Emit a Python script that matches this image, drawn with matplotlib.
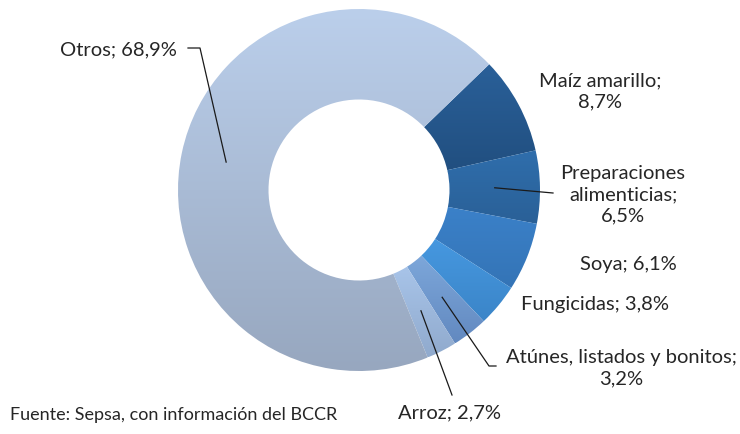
import numpy as np
import matplotlib
matplotlib.use('Agg')
import matplotlib.pyplot as plt
from matplotlib.colors import to_rgb

# data
categories = ['Maíz amarillo', 'Preparaciones alimenticias', 'Soya', 'Fungicidas',
              'Atúnes, listados y bonitos', 'Arroz', 'Otros']
shares = [8.7, 6.5, 6.1, 3.8, 3.2, 2.7, 68.9]
label_texts = ['Maíz amarillo;\n8,7%', 'Preparaciones\nalimenticias;\n6,5%', 'Soya; 6,1%',
               'Fungicidas; 3,8%', 'Atúnes, listados y bonitos;\n3,2%', 'Arroz; 2,7%',
               'Otros; 68,9%']
top_colors = ['#2A6099', '#2F6EAC', '#3B81C9', '#4698E0', '#7DA7DA', '#A8C4E9', '#BBCFEB']
bottom_colors = ['#214F80', '#2A6097', '#3474B6', '#3B85C8', '#6289C0', '#90AACD', '#97A7BF']
source = 'Fuente: Sepsa, con información del BCCR'

# layout in pixels (figure 740x435)
W, H = 740, 435
CX, CY, R = 359, 191, 181
START = 44  # degrees, counter-clockwise from x axis

def px(x, y):
    return ((x - CX) / R, (CY - y) / R)

# label centre and leader line bend points (pixels)
label_pos = [(600, 91), (623, 195), (628, 265), (595, 305), (621, 368), (450, 413), (118, 50)]
elbow_pts = [None, (553, 194), None, None, (489, 367), (452, 396), (200, 49)]
elbow_tails = [None, None, None, None, (496, 367), None, (188, 49)]

plt.rcParams['font.family'] = ['Lato', 'DejaVu Sans']
fig = plt.figure(figsize=(W / 100, H / 100), dpi=100)
ax = fig.add_axes([0, 0, 1, 1])

wedges, _ = ax.pie(shares, startangle=START, counterclock=False, radius=1,
                   wedgeprops=dict(width=0.5, linewidth=0))

# vertical gradient fill clipped to each wedge
for w, ct, cb in zip(wedges, top_colors, bottom_colors):
    ext = w.get_path().get_extents()
    t = np.linspace(0, 1, 256)[:, None]
    grad = (1 - t) * np.array(to_rgb(ct)) + t * np.array(to_rgb(cb))
    grad = grad[:, None, :]
    im = ax.imshow(grad, extent=(ext.x0, ext.x1, ext.y0, ext.y1), origin='upper',
                   aspect='auto', interpolation='bilinear', zorder=1)
    im.set_clip_path(w)
    w.set_facecolor('none')

# labels and leader lines
for w, txt, pos, elb, tail in zip(wedges, label_texts, label_pos, elbow_pts, elbow_tails):
    tx, ty = px(*pos)
    ax.text(tx, ty, txt, ha='center', va='center', fontsize=14.5, color='#262626',
            linespacing=1.3, zorder=3)
    if elb is None:
        continue
    mid = np.deg2rad((w.theta1 + w.theta2) / 2)
    sx, sy = 0.75 * np.cos(mid), 0.75 * np.sin(mid)
    ex, ey = px(*elb)
    xs, ys = [sx, ex], [sy, ey]
    if tail is not None:
        tx2, ty2 = px(*tail)
        xs.append(tx2)
        ys.append(ty2)
    ax.plot(xs, ys, color='#1a1a1a', lw=0.9, zorder=3)

fx, fy = px(10, 415)
ax.text(fx, fy, source, ha='left', va='center', fontsize=13, color='#262626')

x0, y0 = px(0, H)
x1, y1 = px(W, 0)
ax.set_xlim(x0, x1)
ax.set_ylim(y0, y1)
ax.set_aspect('equal')
ax.axis('off')

fig.savefig('out.png', dpi=100)
